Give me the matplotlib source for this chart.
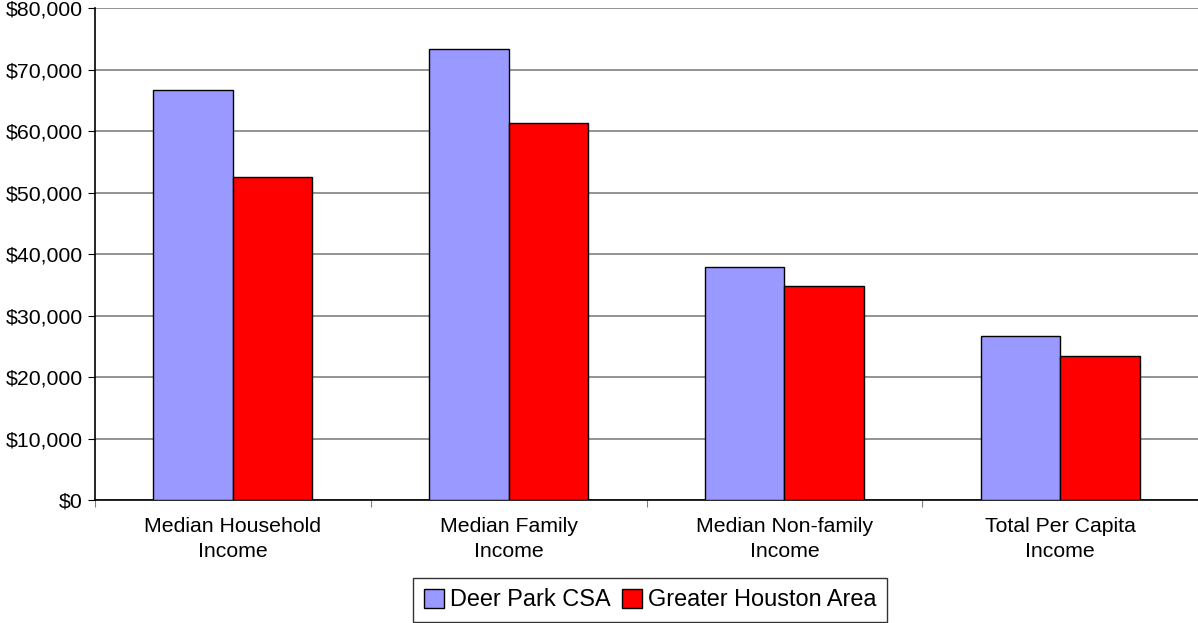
import numpy as np
import matplotlib
matplotlib.use('Agg')
import matplotlib.pyplot as plt
from matplotlib.ticker import FuncFormatter, FixedLocator

plt.rcParams['font.family'] = ['Liberation Sans', 'DejaVu Sans']

# Data
categories = ['Median Household\nIncome', 'Median Family\nIncome',
              'Median Non-family\nIncome', 'Total Per Capita\nIncome']
deer_park = [66700, 73300, 37900, 26700]
houston = [52500, 61300, 34800, 23400]

fig = plt.figure(figsize=(11.98, 6.23), dpi=100)
ax = fig.add_axes([0.0793, 0.1974, 0.9207, 0.7896])

x = np.arange(len(categories))
w = 0.288
ax.bar(x - w / 2, deer_park, w, color='#9999ff', edgecolor='black', linewidth=1,
       label='Deer Park CSA', zorder=3)
ax.bar(x + w / 2, houston, w, color='#ff0000', edgecolor='black', linewidth=1,
       label='Greater Houston Area', zorder=3)

ax.set_xlim(-0.5, 3.5)
ax.set_ylim(0, 80000)
ax.set_yticks(np.arange(0, 80001, 10000))
ax.yaxis.set_major_formatter(FuncFormatter(lambda v, p: '${:,.0f}'.format(v)))
ax.yaxis.grid(True, color='#808080', linewidth=1.2, zorder=0)

# category separator ticks on x axis, labels at centers
ax.xaxis.set_major_locator(FixedLocator([-0.5, 0.5, 1.5, 2.5, 3.5]))
ax.xaxis.set_major_formatter(FuncFormatter(lambda v, p: ''))
ax.xaxis.set_minor_locator(FixedLocator(x))
ax.set_xticklabels(categories, minor=True, linespacing=1.4)
ax.tick_params(axis='x', which='minor', length=0, labelsize=15.3, pad=12)
ax.tick_params(axis='x', which='major', length=5, direction='out', color='#808080')
ax.tick_params(axis='y', length=5, direction='out', labelsize=15.3, pad=4)

for s in ['top', 'right']:
    ax.spines[s].set_visible(False)
ax.spines['left'].set_linewidth(1.2)
ax.spines['bottom'].set_linewidth(1.2)

leg = fig.legend(loc='center', bbox_to_anchor=(650 / 1198, 1 - 600 / 623), ncol=2,
                 fontsize=16.9, frameon=True, fancybox=False, edgecolor='black',
                 handlelength=0.85, handleheight=0.85, handletextpad=0.25,
                 columnspacing=0.5, borderpad=0.45, borderaxespad=0)
leg.get_frame().set_linewidth(1)

fig.savefig('out.png', dpi=100)
